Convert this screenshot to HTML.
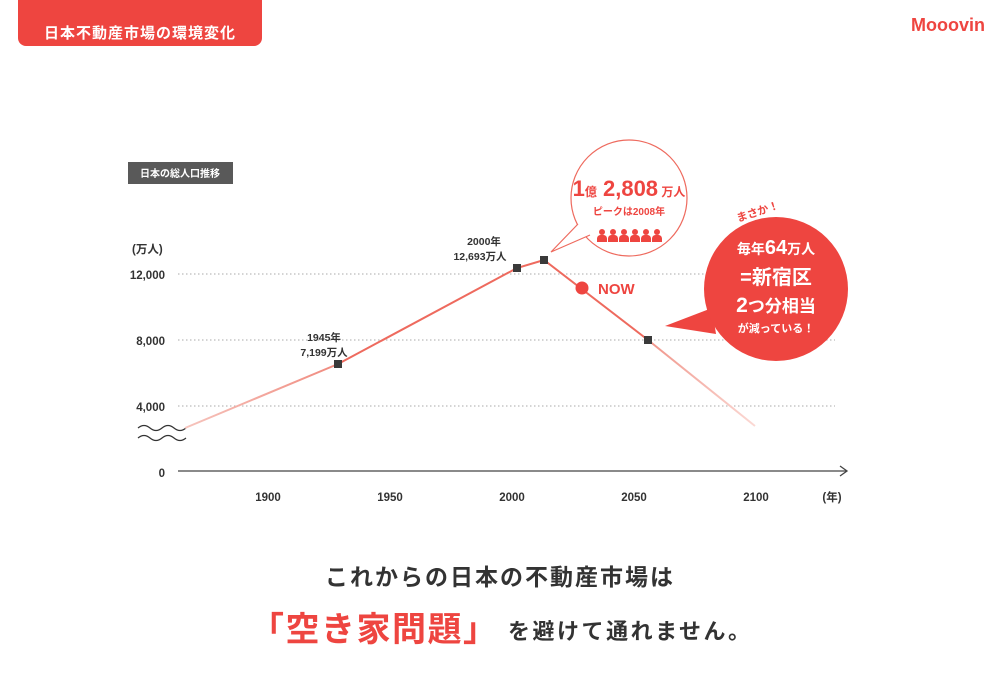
<!DOCTYPE html>
<html><head><meta charset="utf-8"><style>
html,body{margin:0;padding:0;background:#fff;}
svg{display:block;font-family:"Liberation Sans","Noto Sans CJK JP",sans-serif;}
</style></head><body>
<svg width="1000" height="682" viewBox="0 0 1000 682" xmlns="http://www.w3.org/2000/svg">
<defs>
<linearGradient id="g1" x1="185" y1="0" x2="338" y2="0" gradientUnits="userSpaceOnUse"><stop offset="0" stop-color="#f6c4bd"/><stop offset="1" stop-color="#f08a7e"/></linearGradient>
<linearGradient id="g2" x1="648" y1="0" x2="755" y2="0" gradientUnits="userSpaceOnUse"><stop offset="0" stop-color="#f0958a"/><stop offset="1" stop-color="#fbd9d4"/></linearGradient>
<g id="p"><circle cx="0" cy="-5" r="3"/><path d="M-5 5 V1.5 a3.5 3.5 0 0 1 3.5 -3.5 h3 a3.5 3.5 0 0 1 3.5 3.5 V5 Z"/></g>
</defs>
<path d="M18 0 H262 V38 a8 8 0 0 1 -8 8 H26 a8 8 0 0 1 -8 -8 Z" fill="#ee4540"/>
<text x="140" y="38" text-anchor="middle" font-size="15" font-weight="bold" fill="#fff" letter-spacing="1">日本不動産市場の環境変化</text>
<text x="948" y="31" text-anchor="middle" font-size="18" font-weight="bold" fill="#ee4540">Mooovin</text>
<rect x="128" y="162" width="105" height="22" fill="#595959"/>
<text x="180" y="177" text-anchor="middle" font-size="10" font-weight="bold" fill="#fff">日本の総人口推移</text>
<text x="132" y="253" font-size="11.5" font-weight="bold" fill="#333">(万人)</text>
<g font-size="11.5" font-weight="bold" fill="#333" text-anchor="end">
<text x="165" y="279">12,000</text>
<text x="165" y="345">8,000</text>
<text x="165" y="411">4,000</text>
<text x="165" y="477">0</text>
</g>
<g stroke="#aaa" stroke-width="1" stroke-dasharray="1.5 2.5">
<line x1="178" y1="274" x2="835" y2="274"/>
<line x1="178" y1="340" x2="835" y2="340"/>
<line x1="178" y1="406" x2="835" y2="406"/>
</g>
<line x1="178" y1="471" x2="846" y2="471" stroke="#444" stroke-width="1.3"/>
<path d="M840 466 L847 471 L840 476" fill="none" stroke="#444" stroke-width="1.3"/>
<g font-size="11.5" font-weight="bold" fill="#333" text-anchor="middle">
<text x="268" y="501">1900</text><text x="390" y="501">1950</text><text x="512" y="501">2000</text><text x="634" y="501">2050</text><text x="756" y="501">2100</text><text x="832" y="501">(年)</text>
</g>
<path d="M138 428 q6 -5 12 0 t12 0 t12 0 t12 0 M138 438 q6 -5 12 0 t12 0 t12 0 t12 0" fill="none" stroke="#333" stroke-width="1.2"/>
<line x1="185" y1="428" x2="338" y2="364" stroke="url(#g1)" stroke-width="2"/>
<polyline points="338,364 517,268 544,260 648,340" fill="none" stroke="#ee6a5e" stroke-width="2"/>
<line x1="648" y1="340" x2="755" y2="426" stroke="url(#g2)" stroke-width="2"/>
<g fill="#3a3a3a"><rect x="334" y="360" width="8" height="8"/><rect x="513" y="264" width="8" height="8"/><rect x="540" y="256" width="8" height="8"/><rect x="644" y="336" width="8" height="8"/></g>
<circle cx="582" cy="288" r="6.5" fill="#ee4540"/>
<text x="598" y="294" font-size="15" font-weight="bold" fill="#ee4540">NOW</text>
<g font-size="10.5" font-weight="bold" fill="#333" text-anchor="middle">
<text x="324" y="341">1945年</text><text x="324" y="356">7,199万人</text>
<text x="484" y="245">2000年</text><text x="480" y="260">12,693万人</text>
</g>
<circle cx="629" cy="198" r="58" fill="#fff" stroke="#ee6a5e" stroke-width="1.2"/>
<path d="M578 224 L551 252 L590 235" fill="#fff" stroke="#ee6a5e" stroke-width="1.2"/>
<path d="M579 226 L589 233" stroke="#fff" stroke-width="3"/>
<text x="629" y="196" text-anchor="middle" font-weight="bold" fill="#ee4540"><tspan font-size="22">1</tspan><tspan font-size="12">億</tspan><tspan font-size="22"> 2,808</tspan><tspan font-size="12"> 万人</tspan></text>
<text x="629" y="215" text-anchor="middle" font-size="10" font-weight="bold" fill="#ee4540">ピークは2008年</text>
<g fill="#ee4540"><use href="#p" x="602" y="237"/><use href="#p" x="613" y="237"/><use href="#p" x="624" y="237"/><use href="#p" x="635" y="237"/><use href="#p" x="646" y="237"/><use href="#p" x="657" y="237"/></g>
<path d="M712 308 L665 326 L716 334 Z" fill="#ee4540"/>
<circle cx="776" cy="289" r="72" fill="#ee4540"/>
<text x="738" y="222" font-size="11" font-weight="bold" fill="#ee4540" transform="rotate(-18 738 222)">まさか！</text>
<g fill="#fff" font-weight="bold" text-anchor="middle">
<text x="776" y="254" font-size="14">毎年<tspan font-size="20">64</tspan>万人</text>
<text x="776" y="284" font-size="20">=新宿区</text>
<text x="776" y="312" font-size="17"><tspan font-size="21">2</tspan>つ分相当</text>
<text x="776" y="332" font-size="11">が減っている！</text>
</g>
<text x="500" y="585" text-anchor="middle" font-size="23" font-weight="bold" fill="#333" letter-spacing="2">これからの日本の不動産市場は</text>
<text x="250" y="641" font-size="34" font-weight="bold" fill="#ee4540" textLength="247" lengthAdjust="spacing">「空き家問題」</text>
<text x="508" y="639" font-size="22" font-weight="bold" fill="#333" textLength="242" lengthAdjust="spacing">を避けて通れません。</text>
</svg>
</body></html>
